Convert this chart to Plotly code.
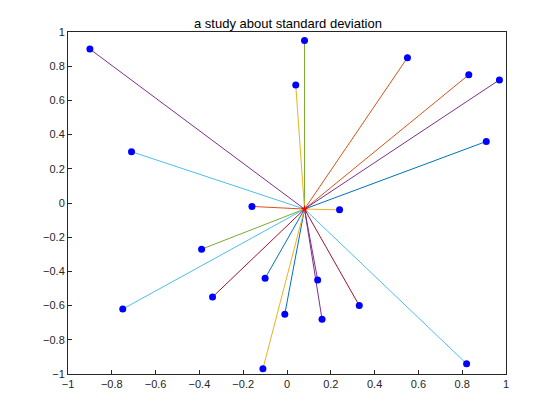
import numpy as np
import plotly.graph_objects as go

xs = [-0.90, 0.08, 0.04, 0.55, 0.83, 0.97, 0.91, -0.71, -0.16, 0.24,
      -0.39, -0.10, 0.14, -0.34, -0.75, 0.33, -0.01, 0.16, -0.11, 0.82]
ys = [0.90, 0.95, 0.69, 0.85, 0.75, 0.72, 0.36, 0.30, -0.02, -0.04,
      -0.27, -0.44, -0.45, -0.55, -0.62, -0.60, -0.65, -0.68, -0.97, -0.94]
line_colors = ["#7E2F8E", "#77AC30", "#EDB120", "#D95319", "#D95319", "#7E2F8E", "#0072BD",
               "#4DBEEE", "#D95319", "#EDB120", "#77AC30", "#0072BD", "#7E2F8E", "#A2142F",
               "#4DBEEE", "#A2142F", "#0072BD", "#7E2F8E", "#EDB120", "#4DBEEE"]

cx, cy = np.mean(xs), np.mean(ys)

fig = go.Figure()
for x, y, c in zip(xs, ys, line_colors):
    fig.add_trace(go.Scatter(x=[cx, x], y=[cy, y], mode="lines",
                             line=dict(color=c, width=1), showlegend=False))
fig.add_trace(go.Scatter(x=xs, y=ys, mode="markers",
                         marker=dict(color="#0000FF", size=7), showlegend=False))
fig.add_trace(go.Scatter(x=[cx], y=[cy], mode="markers",
                         marker=dict(color="#FF0000", size=6, symbol="star"), showlegend=False))

ax = dict(showgrid=False, zeroline=False, showline=True, mirror=True, linecolor="#262626",
          linewidth=1, ticks="inside", ticklen=4, tickcolor="#262626",
          tickfont=dict(size=11, color="#262626"))
fig.update_layout(
    width=560, height=420, plot_bgcolor="white", paper_bgcolor="white",
    margin=dict(l=60, r=62, t=24, b=54),
    font=dict(family="Liberation Sans, Arial", color="#262626"),
    title=dict(text="a study about standard deviation", x=0.5, y=0.975,
               xanchor="center", font=dict(size=13, color="#000000")),
    xaxis=dict(range=[-1, 1], dtick=0.2, **ax),
    yaxis=dict(range=[-1, 1], dtick=0.2, **ax),
)
fig.write_html("out.html")
